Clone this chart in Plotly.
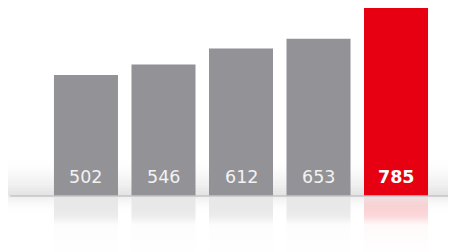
import plotly.graph_objects as go

categories = ["1", "2", "3", "4", "5"]
values = [502, 546, 612, 653, 785]
labels = ["502", "546", "612", "653", "785"]
bar_colors = ["#929297", "#929297", "#929297", "#929297", "#e60012"]
refl_colors = ["#a9a9ad", "#a9a9ad", "#a9a9ad", "#a9a9ad", "#ee4a55"]

xpos = list(range(len(categories)))
# page body has an 8px margin, so the figure is offset by 8px
Y_TOP = 780.1
Y_BOT = -265.6
X_LO = -1.006
X_HI = 4.877

fig = go.Figure()

# soft shadow above the baseline, behind the bars (stepped gradient, layer below)
N = 12
band = 140.0
for k in range(N):
    y0 = band * k / N
    y1 = band * (k + 1) / N
    a = 0.55 * (1 - k / N) ** 1.6
    fig.add_shape(type="rect", xref="paper", yref="y", x0=0, x1=1, y0=y0, y1=y1,
                  fillcolor="rgba(205,205,205,%.3f)" % a, line=dict(width=0), layer="below")

# shadow just below the baseline
fig.add_trace(go.Scatter(
    x=[X_LO, X_HI, X_HI, X_LO], y=[-90, -90, 0, 0], mode="lines", line=dict(width=0),
    fill="toself", hoverinfo="skip", showlegend=False,
    fillgradient=dict(type="vertical", colorscale=[[0, "rgba(255,255,255,0)"], [1, "rgba(225,225,225,0.9)"]]),
))

# reflection
fig.add_trace(go.Bar(
    x=xpos, y=[-v for v in values], marker=dict(color=refl_colors, line=dict(width=0)),
    hoverinfo="skip", showlegend=False,
))
# fade overlay for the reflection
fig.add_trace(go.Scatter(
    x=[X_LO, X_HI, X_HI, X_LO], y=[Y_BOT, Y_BOT, 0, 0], mode="lines", line=dict(width=0),
    fill="toself", hoverinfo="skip", showlegend=False,
    fillgradient=dict(type="vertical", colorscale=[[0, "rgba(255,255,255,1)"], [0.55, "rgba(255,255,255,0.97)"], [1, "rgba(255,255,255,0.35)"]]),
))

# main bars
fig.add_trace(go.Bar(
    x=xpos, y=values, marker=dict(color=bar_colors, line=dict(width=0)),
    hoverinfo="skip", showlegend=False,
))

for i, (lab, v) in enumerate(zip(labels, values)):
    last = i == len(values) - 1
    fig.add_annotation(
        x=xpos[i], y=0, yanchor="bottom", xanchor="center", yshift=7,
        text=("<b>%s</b>" % lab) if last else lab, showarrow=False,
        font=dict(family="DejaVu Sans, sans-serif", size=17.5,
                  color="#ffffff" if last else "#f2f2f2"),
    )

fig.add_shape(type="line", xref="paper", yref="y", x0=0.005, x1=1.0, y0=0, y1=0,
              line=dict(color="#c4c4c4", width=1.5), layer="above")

fig.update_layout(
    width=456, height=252,
    margin=dict(l=0, r=0, t=0, b=0),
    paper_bgcolor="white", plot_bgcolor="white",
    barmode="overlay", bargap=0.174,
    xaxis=dict(range=[X_LO, X_HI], visible=False, fixedrange=True),
    yaxis=dict(range=[Y_BOT, Y_TOP], visible=False, fixedrange=True),
)

fig.write_html("out.html")
